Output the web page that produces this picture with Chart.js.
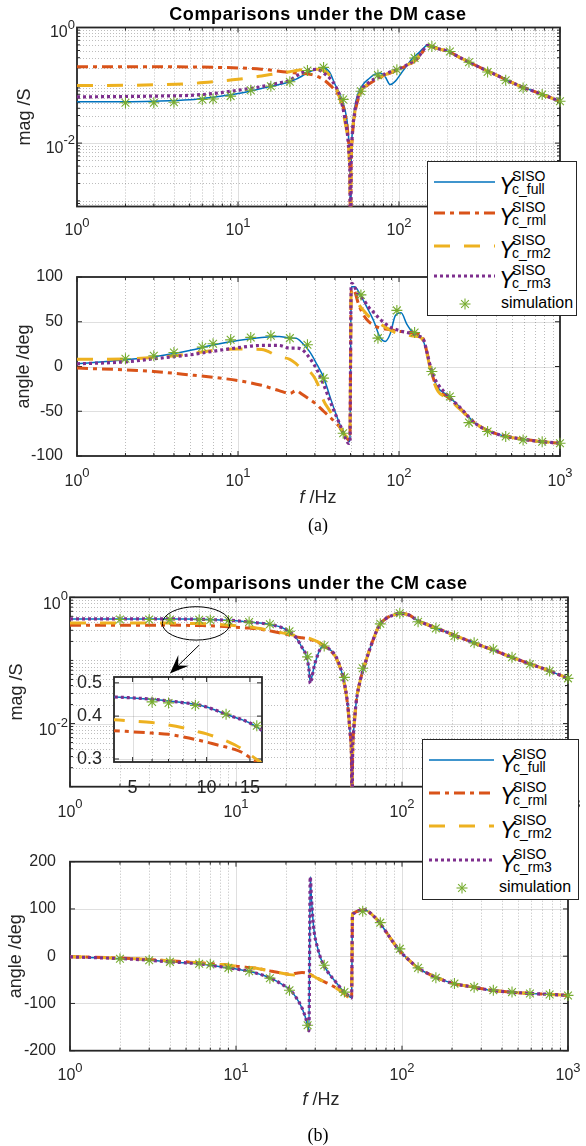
<!DOCTYPE html>
<html>
<head>
<meta charset="utf-8">
<script src="https://cdn.jsdelivr.net/npm/chart.js@4.4.1/dist/chart.umd.min.js"></script>
<style>
  body { margin: 0; background: #fff; }
  #fig { position: relative; width: 586px; height: 1146px; overflow: hidden;
         font-family: "Liberation Sans", Arial, sans-serif; color: #000; }
  canvas { position: absolute; left: 0; }
  .txt { position: absolute; transform: translate(-50%, -50%); white-space: nowrap; }
  .title { font-weight: bold; font-size: 18px; letter-spacing: 0.6px; }
  .xlab { font-size: 18px; color: #262626; }
  .cap { font-family: "Liberation Serif", "Times New Roman", serif; font-size: 18px; }
  .legend { position: absolute; background: #fff; border: 1px solid #262626; z-index: 5; box-sizing: border-box; }
  .legend > * { position: absolute; white-space: nowrap; }
  .legend .Y { font-size: 23px; line-height: 23px; font-style: italic; }
  .legend .ss { font-size: 14px; line-height: 14px; }
  .legend .simlab { font-size: 16px; line-height: 16px; }
</style>
</head>
<body>
<div id="fig">
  <canvas id="dmMag" width="586" height="250" style="top:0px"></canvas>
  <canvas id="dmAng" width="586" height="240" style="top:260px"></canvas>
  <canvas id="cmMag" width="586" height="260" style="top:570px"></canvas>
  <canvas id="cmAng" width="586" height="260" style="top:840px"></canvas>
  <canvas id="cmZoom" width="220" height="140" style="top:660px;left:60px;z-index:2"></canvas>

  <div class="txt title" style="left:318px;top:14px">Comparisons under the DM case</div>
  <div class="txt xlab" style="left:318px;top:497px"><i>f</i> /Hz</div>
  <div class="txt cap" style="left:318px;top:525px">(a)</div>
  <div class="txt title" style="left:319px;top:583px">Comparisons under the CM case</div>
  <div class="txt xlab" style="left:321px;top:1099px"><i>f</i> /Hz</div>
  <div class="txt cap" style="left:318px;top:1135px">(b)</div>
</div>

<script>
Chart.defaults.font.family = '"Liberation Sans", Arial, sans-serif';
Chart.defaults.color = "#262626";

/* ===================== COLORES ===================== */
const COL = { full: "#0072BD", rm1: "#D95319", rm2: "#EDB120", rm3: "#7E2F8E", sim: "#77AC30" };
const EJE = "#262626";
const FUENTE = '"Liberation Sans", Arial, sans-serif';

/* ===================== TICKS ===================== */
const fTicks = [1, 10, 100, 1000];
const magTicks = [0.01, 1];
const angTicksDM = [-100, -50, 0, 50, 100];
const angTicksCM = [-200, -100, 0, 100, 200];
const zoomFTicks = [5, 10, 15];
const zoomMagTicks = [0.3, 0.4, 0.5];

/* ===================== DATOS DM ===================== */
const fDM = [1, 2, 3, 5, 7, 10, 14, 18, 21, 23, 25, 28, 31, 34, 37, 40, 43, 46, 48, 49, 49.6, 50, 50.4, 51,
  53, 56, 60, 65, 70, 76, 82, 88, 95, 103, 112, 122, 132, 142, 150, 160, 175, 200, 240, 300, 400, 550, 750, 1000];

const magFullDM = [0.052, 0.052, 0.053, 0.056, 0.062, 0.072, 0.088, 0.103, 0.115, 0.128, 0.145, 0.172,
  0.192, 0.2, 0.17, 0.105, 0.069, 0.04, 0.02, 0.009, 0.003, 1e-5, 0.003, 0.012,
  0.04, 0.075, 0.105, 0.13, 0.153, 0.163, 0.14, 0.103, 0.118, 0.16, 0.22, 0.3,
  0.36, 0.44, 0.5, 0.47, 0.43, 0.39, 0.3, 0.22, 0.152, 0.1, 0.072, 0.053];
const magRm1DM = [0.21, 0.21, 0.21, 0.208, 0.205, 0.2, 0.19, 0.175, 0.166, 0.164, 0.162, 0.155,
  0.143, 0.125, 0.103, 0.082, 0.06, 0.034, 0.016, 0.008, 0.003, 1e-5, 0.003, 0.01,
  0.03, 0.06, 0.085, 0.105, 0.12, 0.135, 0.15, 0.163, 0.178, 0.195, 0.22, 0.25,
  0.3, 0.4, 0.48, 0.47, 0.43, 0.39, 0.3, 0.22, 0.152, 0.1, 0.072, 0.053];
const magRm2DM = [0.099, 0.1, 0.102, 0.107, 0.115, 0.127, 0.145, 0.162, 0.172, 0.18, 0.186, 0.19,
  0.19, 0.18, 0.15, 0.1, 0.058, 0.025, 0.012, 0.006, 0.002, 1e-5, 0.003, 0.011,
  0.032, 0.064, 0.09, 0.108, 0.122, 0.137, 0.152, 0.165, 0.18, 0.197, 0.222, 0.255,
  0.31, 0.41, 0.49, 0.47, 0.43, 0.39, 0.3, 0.22, 0.152, 0.1, 0.072, 0.053];
const magRm3DM = [0.063, 0.064, 0.065, 0.067, 0.072, 0.082, 0.095, 0.11, 0.122, 0.145, 0.165, 0.185,
  0.188, 0.163, 0.135, 0.1, 0.065, 0.028, 0.013, 0.006, 0.002, 1e-5, 0.003, 0.011,
  0.033, 0.066, 0.092, 0.112, 0.128, 0.142, 0.157, 0.17, 0.184, 0.2, 0.225, 0.26,
  0.31, 0.41, 0.49, 0.47, 0.43, 0.39, 0.3, 0.22, 0.152, 0.1, 0.072, 0.053];

const angFullDM = [3, 7.5, 11, 18, 24, 29, 32.5, 33.5, 32, 31.5, 26.5, 16,
  2, -12, -32, -50, -65, -77, -82, -84, -80, 0, 85, 89,
  89, 84, 74, 62, 50, 33, 28, 36, 57, 60, 47, 38,
  36, 28, 13, -8, -24, -32, -46, -64, -75, -80.5, -83.7, -85.7];
const angRm1DM = [-1.8, -3.7, -5.6, -9.3, -12, -15.7, -21, -27, -30, -27, -31, -37,
  -43, -50, -56, -62, -68, -77, -81, -82, -78, 0, 80, 86,
  84, 70, 58, 50, 46, 43, 42, 41, 40, 39, 38.5, 37.5,
  36.5, 30, 14, -8, -26, -34, -47, -64, -75, -80.5, -83.7, -85.7];
const angRm2DM = [8, 8.5, 10, 14, 18, 19.5, 19, 11, 8, 3, -3, -6,
  -18, -38, -49, -59, -68, -76, -80, -82, -78, 0, 78, 82,
  80, 70, 63, 56, 52, 48, 44, 41, 38, 36.5, 35.5, 34,
  33.5, 28, 12, -10, -28, -35, -48, -64, -75, -80.5, -83.7, -85.7];
const angRm3DM = [3, 5.2, 8.6, 13, 17, 21, 23.5, 23.5, 20.5, 20.5, 19, 9,
  -4, -20, -37, -52, -65, -78, -85, -86, -82, 0, 88, 93,
  89, 80, 75, 66, 60, 53, 48, 44, 41.5, 39.5, 38, 36.5,
  34, 30, 14, -6, -20, -32, -46, -64, -75, -80.5, -83.7, -85.7];

/* ===================== SIMULACION ===================== */
const starF = [2, 3, 4, 6, 7, 9, 12, 16, 21, 27, 34, 45, 58, 74, 97, 125, 160, 207, 272, 355, 460, 590, 775, 1000];
const starMagDM = [0.05, 0.05, 0.051, 0.057, 0.058, 0.065, 0.082, 0.096, 0.115, 0.18, 0.204, 0.057,
  0.079, 0.15, 0.186, 0.296, 0.47, 0.385, 0.25, 0.17, 0.122, 0.09, 0.069, 0.053];
const starAngDM = [8.6, 12, 15.7, 21.7, 25.4, 29.8, 32.5, 34.3, 31.7, 24.3, -13, -74.6,
  80, 31.7, 62.7, 38, -5.6, -33.6, -62.7, -72.7, -78.3, -82, -84, -85.7];
const starMagCM = [0.445, 0.445, 0.443, 0.44, 0.437, 0.43, 0.405, 0.375, 0.29, 0.114, 0.169, 0.054,
  0.075, 0.38, 0.557, 0.41, 0.322, 0.243, 0.19, 0.15, 0.112, 0.087, 0.068, 0.052];
const starAngCM = [-5.6, -8.5, -12, -16, -17.6, -24.7, -31.7, -46.5, -72, -146, -19, -76,
  95, 71, 15.5, -24.7, -45.8, -58, -65.5, -72, -76, -79, -81, -83];

/* ===================== DATOS CM ===================== */
const fCM = [1, 2, 3, 4, 5, 6, 7, 8, 9, 10, 11, 12, 13, 14, 15, 16, 17, 19, 21, 23,
  25, 26.5, 27.5, 28, 28.5, 29.5, 31, 33, 36, 40, 44, 47, 49, 49.7, 50, 50.3, 51, 53, 56, 60,
  66, 73, 80, 88, 97, 110, 125, 150, 200, 270, 350, 450, 600, 800, 1000];

const magFullCM = [0.455, 0.455, 0.455, 0.455, 0.452, 0.448, 0.443, 0.438, 0.433, 0.425,
  0.415, 0.405, 0.397, 0.39, 0.382, 0.372, 0.36, 0.33, 0.285, 0.23,
  0.16, 0.118, 0.075, 0.045, 0.052, 0.078, 0.12, 0.165, 0.155, 0.115,
  0.056, 0.021, 0.006, 0.002, 1e-5, 0.002, 0.007, 0.022, 0.048, 0.09,
  0.19, 0.36, 0.46, 0.52, 0.555, 0.525, 0.425, 0.35, 0.26, 0.19,
  0.148, 0.114, 0.087, 0.066, 0.052];
const magRm1CM = [0.36, 0.36, 0.36, 0.363, 0.36, 0.357, 0.354, 0.348, 0.342, 0.336,
  0.33, 0.325, 0.32, 0.313, 0.303, 0.294, 0.285, 0.268, 0.252, 0.236,
  0.228, 0.222, 0.218, 0.215, 0.212, 0.205, 0.195, 0.178, 0.15, 0.11,
  0.055, 0.02, 0.006, 0.002, 1e-5, 0.002, 0.007, 0.022, 0.048, 0.09,
  0.19, 0.36, 0.46, 0.52, 0.555, 0.525, 0.425, 0.35, 0.26, 0.19,
  0.148, 0.114, 0.087, 0.066, 0.052];
const magRm2CM = [0.392, 0.392, 0.392, 0.391, 0.387, 0.383, 0.377, 0.37, 0.362, 0.355,
  0.347, 0.339, 0.33, 0.32, 0.309, 0.299, 0.289, 0.273, 0.259, 0.246,
  0.236, 0.229, 0.224, 0.221, 0.217, 0.21, 0.199, 0.181, 0.152, 0.11,
  0.055, 0.02, 0.006, 0.002, 1e-5, 0.002, 0.007, 0.022, 0.048, 0.09,
  0.19, 0.36, 0.46, 0.52, 0.555, 0.525, 0.425, 0.35, 0.26, 0.19,
  0.148, 0.114, 0.087, 0.066, 0.052];
const magRm3CM = [0.455, 0.455, 0.455, 0.455, 0.452, 0.448, 0.443, 0.438, 0.433, 0.425,
  0.415, 0.405, 0.397, 0.39, 0.382, 0.372, 0.36, 0.33, 0.285, 0.23,
  0.16, 0.118, 0.072, 0.043, 0.05, 0.078, 0.12, 0.165, 0.155, 0.115,
  0.056, 0.021, 0.006, 0.002, 1e-5, 0.002, 0.007, 0.022, 0.048, 0.09,
  0.19, 0.36, 0.46, 0.52, 0.555, 0.525, 0.425, 0.35, 0.26, 0.19,
  0.148, 0.114, 0.087, 0.066, 0.052];

const angFullCM = [-1.4, -5, -8.5, -12, -14, -16, -19, -22, -24.7, -27,
  -29.5, -31.7, -35, -38.5, -42, -45.8, -50, -60, -70, -87,
  -110, -135, -158, 168, 120, 55, 18, -12, -35, -55,
  -73, -82, -87, -88, 0, 88, 90, 94, 97, 98,
  88, 72, 52, 31, 11, -8, -25, -40, -57, -65.5,
  -72.5, -76, -79, -81, -83];
const angRm1CM = [-1, -4, -7, -10, -12, -14, -16, -17.5, -19, -21,
  -22.5, -24, -25, -27, -29, -31, -33, -36, -38, -36,
  -34.5, -35.5, -38, -39, -40, -43, -47, -52, -58, -67,
  -77, -85, -88, -88, 0, 90, 92, 94, 97, 98,
  88, 72, 52, 31, 11, -8, -25, -40, -57, -65.5,
  -72.5, -76, -79, -81, -83];
const angRm2CM = [-1, -4, -7, -10, -12, -14, -16, -17.5, -19, -21,
  -22.5, -24, -25, -27, -29, -31, -33, -36, -39, -40,
  -38, -37.5, -38.5, -39.5, -40.5, -43, -47, -52, -58, -67,
  -77, -85, -88, -88, 0, 90, 92, 94, 97, 98,
  88, 72, 52, 31, 11, -8, -25, -40, -57, -65.5,
  -72.5, -76, -79, -81, -83];
const angRm3CM = [-1.4, -5, -8.5, -12, -14, -16, -19, -22, -24.7, -27,
  -29.5, -31.7, -35, -38.5, -42, -45.8, -50, -60, -70, -87,
  -110, -135, -158, 168, 120, 55, 18, -12, -35, -55,
  -73, -82, -87, -88, 0, 88, 90, 94, 97, 98,
  88, 72, 52, 31, 11, -8, -25, -40, -57, -65.5,
  -72.5, -76, -79, -81, -83];

/* ===================== ANOTACION ZOOM ===================== */
const elipse = { fMin: 3.6, fMax: 9.2, magMin: 0.21, magMax: 0.71 };
const flecha = { desde: [6.0, 0.175], hasta: [4.0, 0.062] };

/* ===================== UTIL ===================== */
const esta = (arr, v) => arr.some((t) => Math.abs(t - v) <= Math.abs(t) * 1e-9);

function logTicks(min, max, marcados) {
  const out = [];
  for (let e = Math.floor(Math.log10(min)); e <= Math.ceil(Math.log10(max)); e++) {
    for (let m = 1; m < 10; m++) {
      const v = +(m * Math.pow(10, e)).toPrecision(6);
      if (v >= min && v <= max) out.push(v);
    }
  }
  marcados.forEach((v) => { if (!esta(out, v)) out.push(v); });
  return out.sort((a, b) => a - b).map((v) => ({ value: v, major: esta(marcados, v) }));
}

const puntos = (xs, ys) => xs.map((x, i) => ({ x, y: ys[i] }));

function linea(xs, ys, color, ancho, dash, order) {
  return {
    data: puntos(xs, ys), borderColor: color, borderWidth: ancho, borderDash: dash,
    pointRadius: 0, fill: false, cubicInterpolationMode: "monotone", order,
  };
}
function estrellas(xs, ys, clip) {
  return {
    data: puntos(xs, ys), showLine: false, pointStyle: "star", pointRadius: 5.5,
    pointBorderColor: COL.sim, pointBackgroundColor: COL.sim, pointBorderWidth: 1.1,
    borderColor: COL.sim, clip, order: 1,
  };
}
function series(f, full, rm1, rm2, rm3, sf, sim, clip) {
  return [
    linea(f, full, COL.full, 1.5, [], 5),
    linea(f, rm1, COL.rm1, 3, [11, 5, 4, 5], 4),
    linea(f, rm2, COL.rm2, 3, [16, 14], 3),
    linea(f, rm3, COL.rm3, 3.2, [3, 3], 2),
    estrellas(sf, sim, clip),
  ];
}

/* ===================== EJES ESTILO MATLAB ===================== */
function trazo(ctx, x1, y1, x2, y2) {
  ctx.beginPath(); ctx.moveTo(x1, y1); ctx.lineTo(x2, y2); ctx.stroke();
}

// etiqueta 10^n con exponente pequeno y elevado
function potencia(ctx, v, x0, yb, alinear) {
  const e = String(Math.round(Math.log10(v)));
  ctx.font = "16px " + FUENTE;
  const wb = ctx.measureText("10").width;
  ctx.font = "13px " + FUENTE;
  const we = ctx.measureText(e).width;
  const izq = alinear === "centro" ? x0 - (wb + we) / 2 : x0 - (wb + we);
  ctx.font = "16px " + FUENTE;
  ctx.fillText("10", izq, yb);
  ctx.font = "13px " + FUENTE;
  ctx.fillText(e, izq + wb, yb - 8.5);
}

const ejesMatlab = {
  id: "ejesMatlab",
  beforeDraw(chart) {
    const { ctx, chartArea: a } = chart;
    ctx.save();
    ctx.fillStyle = "#fff";
    ctx.fillRect(a.left, a.top, a.width, a.height);
    ctx.restore();
  },
  beforeDatasetsDraw(chart) {
    const { ctx, chartArea: a, scales: { x, y } } = chart;
    ctx.save();
    ctx.lineWidth = 1;
    const grilla = (t) => {
      ctx.strokeStyle = t.major ? "rgba(38,38,38,0.15)" : "rgba(38,38,38,0.3)";
      ctx.setLineDash(t.major ? [] : [1, 2]);
    };
    x.ticks.forEach((t) => {
      const p = Math.round(x.getPixelForValue(t.value)) + 0.5;
      if (p <= a.left + 1 || p >= a.right - 1) return;
      grilla(t); trazo(ctx, p, a.top, p, a.bottom);
    });
    y.ticks.forEach((t) => {
      const p = Math.round(y.getPixelForValue(t.value)) + 0.5;
      if (p <= a.top + 1 || p >= a.bottom - 1) return;
      grilla(t); trazo(ctx, a.left, p, a.right, p);
    });
    ctx.setLineDash([]);
    ctx.strokeStyle = EJE;
    ctx.lineWidth = 1.8;
    ctx.strokeRect(a.left, a.top, a.width, a.height);
    ctx.lineWidth = 1;
    x.ticks.forEach((t) => {
      const p = x.getPixelForValue(t.value), l = t.major ? 5 : 3;
      trazo(ctx, p, a.bottom, p, a.bottom - l);
      trazo(ctx, p, a.top, p, a.top + l);
    });
    y.ticks.forEach((t) => {
      const p = y.getPixelForValue(t.value), l = t.major ? 5 : 3;
      trazo(ctx, a.left, p, a.left + l, p);
      trazo(ctx, a.right, p, a.right - l, p);
    });
    ctx.restore();
  },
  afterDraw(chart, args, o) {
    const { ctx, chartArea: a, scales: { x, y } } = chart;
    ctx.save();
    ctx.fillStyle = EJE;
    ctx.textBaseline = "alphabetic";
    ctx.textAlign = "left";
    if (o.potX) {
      x.ticks.filter((t) => t.major).forEach((t) => potencia(ctx, t.value, x.getPixelForValue(t.value), a.bottom + o.potX, "centro"));
    }
    if (o.potY) {
      y.ticks.filter((t) => t.major).forEach((t) => potencia(ctx, t.value, a.left - 2, y.getPixelForValue(t.value) + o.potY, "der"));
    }
    ctx.restore();
  },
};

const llamada = {
  id: "llamada",
  afterDatasetsDraw(chart) {
    const { ctx, scales: { x, y } } = chart;
    const x1 = x.getPixelForValue(elipse.fMin), x2 = x.getPixelForValue(elipse.fMax);
    const y1 = y.getPixelForValue(elipse.magMax), y2 = y.getPixelForValue(elipse.magMin);
    ctx.save();
    ctx.strokeStyle = "#000";
    ctx.fillStyle = "#000";
    ctx.lineWidth = 1;
    ctx.beginPath();
    ctx.ellipse((x1 + x2) / 2, (y1 + y2) / 2, (x2 - x1) / 2, (y2 - y1) / 2, 0, 0, 2 * Math.PI);
    ctx.stroke();

    const ax = x.getPixelForValue(flecha.desde[0]), ay = y.getPixelForValue(flecha.desde[1]);
    const bx = x.getPixelForValue(flecha.hasta[0]), by = y.getPixelForValue(flecha.hasta[1]);
    const ang = Math.atan2(by - ay, bx - ax);
    const c = Math.cos(ang), s = Math.sin(ang), L = 19, W = 7.5;
    trazo(ctx, ax, ay, bx - c * L * 0.6, by - s * L * 0.6);
    ctx.beginPath();
    ctx.moveTo(bx, by);
    ctx.lineTo(bx - c * L - s * W, by - s * L + c * W);
    ctx.lineTo(bx - c * L * 0.6, by - s * L * 0.6);
    ctx.lineTo(bx - c * L + s * W, by - s * L - c * W);
    ctx.closePath();
    ctx.fill();
    ctx.restore();
  },
};

/* ===================== PANELES ===================== */
function escala(tipo, min, max, marcados, cfg) {
  return {
    type: tipo, min, max,
    afterBuildTicks: (s) => {
      s.ticks = tipo === "logarithmic" ? logTicks(min, max, marcados) : marcados.map((v) => ({ value: v, major: true }));
    },
    afterFit: cfg.fit,
    ticks: {
      autoSkip: false, maxRotation: 0, minRotation: 0, padding: cfg.padding || 0,
      font: { size: cfg.size || 16 }, color: EJE,
      callback: (v, i, ticks) => (cfg.fmt && ticks[i].major ? cfg.fmt(v) : ""),
    },
    title: cfg.title
      ? { display: true, text: cfg.title, color: EJE, font: { size: 18 }, padding: { top: cfg.titlePad, bottom: 0 } }
      : { display: false },
    grid: { display: false },
    border: { display: false },
  };
}

function crearPanel(id, datasets, pad, xEsc, yEsc, pot, extra) {
  return new Chart(document.getElementById(id), {
    type: "line",
    data: { datasets },
    options: {
      responsive: false,
      animation: false,
      events: [],
      layout: { padding: { top: pad.top, right: pad.right, left: 0, bottom: 0 } },
      plugins: { legend: { display: false }, tooltip: { enabled: false }, ejesMatlab: pot },
      scales: { x: xEsc, y: yEsc },
    },
    plugins: [ejesMatlab].concat(extra || []),
  });
}

const fmtNum = (v) => String(v);

/* DM magnitud */
crearPanel("dmMag",
  series(fDM, magFullDM, magRm1DM, magRm2DM, magRm3DM, starF, starMagDM, false),
  { top: 27.5, right: 26 },
  escala("logarithmic", 1, 1000, fTicks, { fit: (s) => { s.height = 43.5; } }),
  escala("logarithmic", 8e-4, 1, magTicks, { title: "mag /S", titlePad: 14, fit: (s) => { s.width = 77; } }),
  { potX: 28.5, potY: 9.7 });

/* DM angulo */
crearPanel("dmAng",
  series(fDM, angFullDM, angRm1DM, angRm2DM, angRm3DM, starF, starAngDM, false),
  { top: 17, right: 26 },
  escala("logarithmic", 1, 1000, fTicks, { fit: (s) => { s.height = 44; } }),
  escala("linear", -100, 100, angTicksDM, { padding: 6, fmt: fmtNum, title: "angle /deg", titlePad: 13, fit: (s) => { s.width = 77; } }),
  { potX: 29.5 });

/* CM magnitud */
crearPanel("cmMag",
  series(fCM, magFullCM, magRm1CM, magRm2CM, magRm3CM, starF, starMagCM, false),
  { top: 27.3, right: 18 },
  escala("logarithmic", 1, 1000, fTicks, { fit: (s) => { s.height = 43.3; } }),
  escala("logarithmic", 1e-3, 1, magTicks, { title: "mag /S", titlePad: 6, fit: (s) => { s.width = 70; } }),
  { potX: 30, potY: 11.5 },
  [llamada]);

/* CM angulo */
crearPanel("cmAng",
  series(fCM, angFullCM, angRm1CM, angRm2CM, angRm3CM, starF, starAngCM, false),
  { top: 21.7, right: 18 },
  escala("logarithmic", 1, 1000, fTicks, { fit: (s) => { s.height = 49.3; } }),
  escala("linear", -200, 200, angTicksCM, { padding: 6, fmt: fmtNum, title: "angle /deg", titlePad: 5, fit: (s) => { s.width = 70; } }),
  { potX: 29.5 });

/* CM zoom (recuadro) */
crearPanel("cmZoom",
  series(fCM, magFullCM, magRm1CM, magRm2CM, magRm3CM, starF, starMagCM, true),
  { top: 17, right: 18 },
  escala("logarithmic", 4.2, 16.8, zoomFTicks, { padding: 7, size: 18, fmt: fmtNum, fit: (s) => { s.height = 38; } }),
  escala("logarithmic", 0.294, 0.52, zoomMagTicks, { padding: 4, size: 18, fmt: fmtNum, fit: (s) => { s.width = 54; } }),
  {});

/* ===================== LEYENDAS ===================== */
const leyendaSeries = [
  { sub: "c_full", color: COL.full, ancho: 1.5, dash: "" },
  { sub: "c_rml", color: COL.rm1, ancho: 3, dash: "11 5 4 5" },
  { sub: "c_rm2", color: COL.rm2, ancho: 3, dash: "16 14" },
  { sub: "c_rm3", color: COL.rm3, ancho: 3.2, dash: "3 3" },
];

function crearLeyenda(caja, filas, d) {
  const el = document.createElement("div");
  el.className = "legend";
  Object.assign(el.style, { left: caja[0] + "px", top: caja[1] + "px", width: caja[2] + "px", height: caja[3] + "px" });
  let html = "";
  leyendaSeries.forEach((s, i) => {
    const cy = filas[i];
    html += `<svg style="left:${d.lx}px;top:${cy - 6}px" width="${d.lw}" height="12">` +
      `<line x1="0" y1="6" x2="${d.lw}" y2="6" stroke="${s.color}" stroke-width="${s.ancho}" stroke-dasharray="${s.dash}"/></svg>`;
    html += `<span class="Y" style="left:${d.yx}px;top:${cy - 7.5}px">Y</span>`;
    html += `<span class="ss" style="left:${d.sx}px;top:${cy - 13}px">SISO</span>`;
    html += `<span class="ss" style="left:${d.sx}px;top:${cy}px">${s.sub}</span>`;
  });
  const cy = filas[4], sc = d.lx + d.lw / 2;
  let brazos = "";
  for (let k = 0; k < 4; k++) {
    const a = (k * Math.PI) / 4, r = 5.5;
    brazos += `<line x1="${7 - r * Math.cos(a)}" y1="${7 - r * Math.sin(a)}" x2="${7 + r * Math.cos(a)}" y2="${7 + r * Math.sin(a)}"/>`;
  }
  html += `<svg style="left:${sc - 7}px;top:${cy - 7}px" width="14" height="14"><g stroke="${COL.sim}" stroke-width="1.1">${brazos}</g></svg>`;
  html += `<span class="simlab" style="left:${d.tx}px;top:${cy - 9}px">simulation</span>`;
  el.innerHTML = html;
  document.getElementById("fig").appendChild(el);
}

crearLeyenda([427, 161, 150, 155], [20, 51, 84, 114, 142], { lx: 6, lw: 61, yx: 71, sx: 84, tx: 73 });
crearLeyenda([422, 739, 157, 161], [20, 52.5, 86, 120, 148], { lx: 6, lw: 65, yx: 77, sx: 90, tx: 76 });
</script>
</body>
</html>
